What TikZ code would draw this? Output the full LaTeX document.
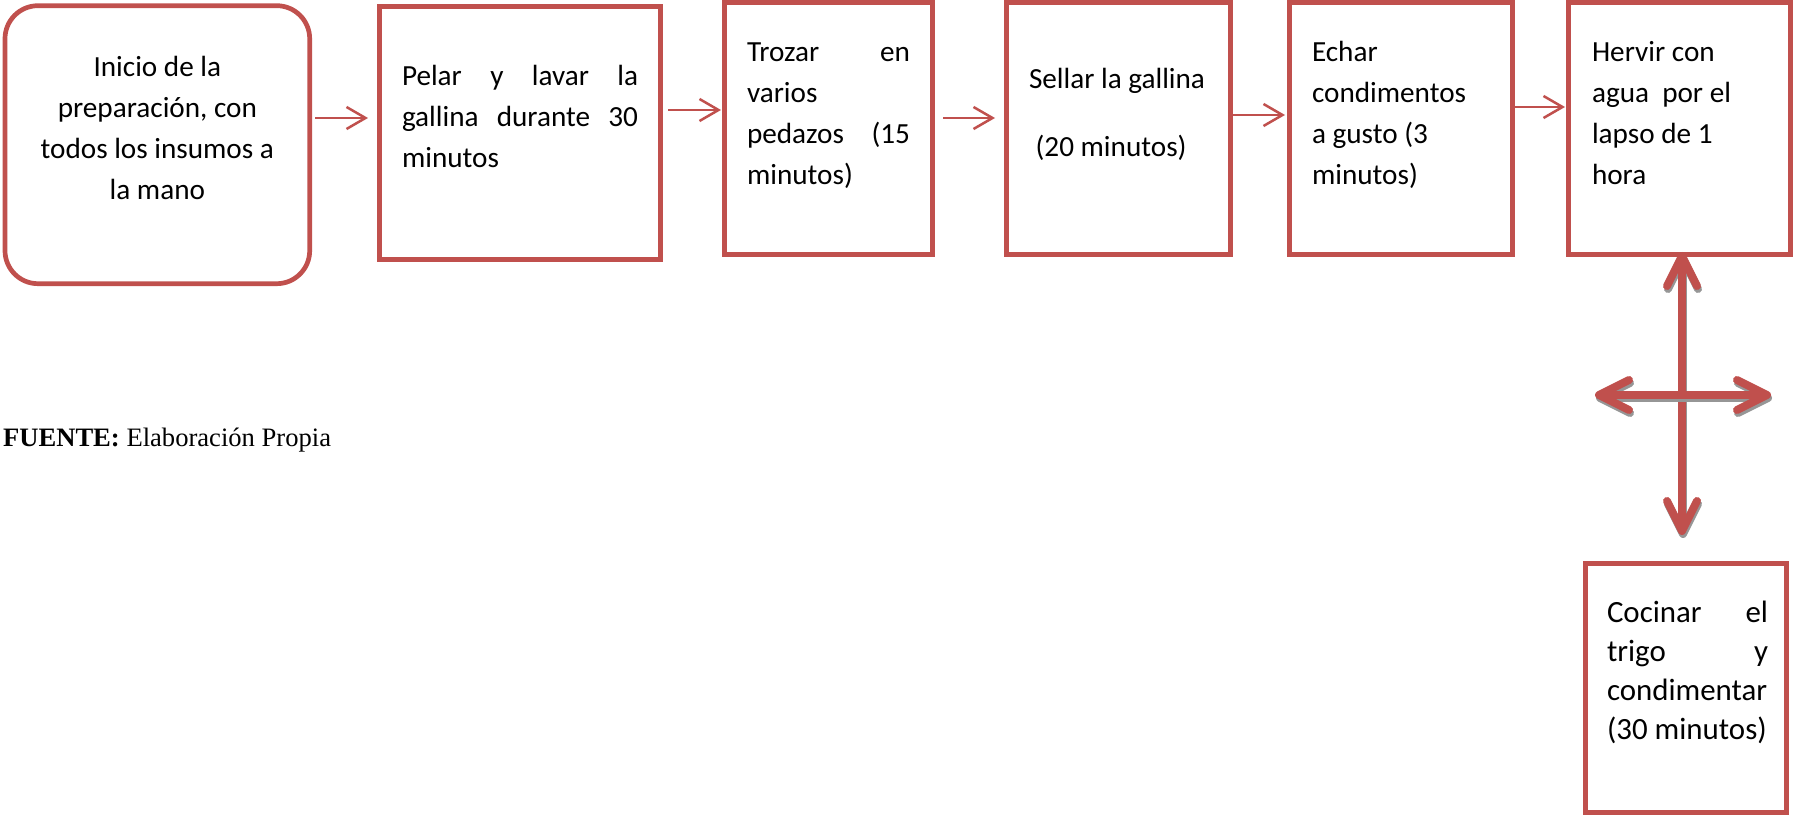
\documentclass[tikz,border=0pt]{standalone}
\usepackage{fontspec}
\setmainfont{Carlito}
\newfontfamily\tnr{Liberation Serif}
\usetikzlibrary{arrows.meta}
\definecolor{accred}{RGB}{192,80,77}
\definecolor{shadowgray}{RGB}{150,150,150}
\newcommand{\bxc}[6]{\parbox[c][#2][t]{#1}{\rule{0pt}{#3}\hspace*{#4}\parbox[t]{#5}{#6}}}
\newcommand{\jl}[1]{\makebox[\linewidth][s]{#1}}
\begin{document}
\begin{tikzpicture}[x=0.5pt,y=-0.5pt,
  stepbox/.style={draw=accred, line width=2.35pt, inner sep=0pt, outer sep=0pt, fill=white},
  txt/.style={font=\fontsize{14.6pt}{20.5pt}\selectfont},
  txtb/.style={font=\fontsize{15.45pt}{19.65pt}\selectfont},
  flow/.style={draw=accred, line width=1.25pt, -{Straight Barb[length=9.5pt,width=11pt]}},
  bigarrow/.style={draw=accred, line width=4pt, line cap=round,
    {Straight Barb[length=15pt,width=15pt,round]}-{Straight Barb[length=15pt,width=15pt,round]}},
  bigshadow/.style={bigarrow, draw=shadowgray, transform canvas={xshift=0.5pt,yshift=-1.5pt}},
]
\useasboundingbox (0,0) rectangle (1794,817);

\node[stepbox, txt, rounded corners=16.5pt] (b1) at (157.35,144.7)
  {\bxc{152.35pt}{139pt}{35.65pt}{0pt}{152.35pt}{\centering Inicio de la\\preparación, con\\todos los insumos a\\la mano}};
\node[stepbox, txt] (b2) at (520,133)
  {\bxc{140.5pt}{126.5pt}{39.75pt}{11.25pt}{118pt}{\jl{Pelar y lavar la}\\\jl{gallina durante 30}\\minutos}};
\node[stepbox, txt] (b3) at (828.5,128.5)
  {\bxc{104pt}{126pt}{29.75pt}{11.25pt}{81.5pt}{\jl{Trozar en}\\varios\\\jl{pedazos (15}\\minutos)}};
\node[stepbox, txt] (b4) at (1118.5,128.5)
  {\bxc{112pt}{126pt}{43.25pt}{11.25pt}{100pt}{Sellar la gallina\\[13.5pt]\hspace*{3.3pt}(20 minutos)}};
\node[stepbox, txt] (b5) at (1401,128.5)
  {\bxc{111.5pt}{126pt}{29.75pt}{11.25pt}{95pt}{Echar\\condimentos\\a gusto (3\\minutos)}};
\node[stepbox, txt] (b6) at (1679.5,128.5)
  {\bxc{111pt}{126pt}{29.75pt}{11.75pt}{95pt}{Hervir con\\agua\ \ por el\\lapso de 1\\hora}};
\node[stepbox, txtb] (b7) at (1686,688)
  {\bxc{100.5pt}{124.5pt}{29.25pt}{10.75pt}{80.5pt}{\jl{Cocinar el}\\\jl{trigo y}\\condimentar\\(30 minutos)}};

\draw[flow, shorten <=2.65pt, shorten >=5.75pt] (b1.east |- 0,118) -- (b2.west |- 0,118);
\draw[flow, shorten <=3.75pt, shorten >=1.75pt] (b2.east |- 0,110) -- (b3.west |- 0,110);
\draw[flow, shorten <=5.25pt, shorten >=5.75pt] (b3.east |- 0,118) -- (b4.west |- 0,118);
\draw[flow, shorten <=1.25pt, shorten >=2.25pt] (b4.east |- 0,115) -- (b5.west |- 0,115);
\draw[flow, shorten <=1.25pt, shorten >=1.75pt] (b5.east |- 0,107) -- (b6.west |- 0,107);

\coordinate (vb) at (1682,535);
\coordinate (hl) at (1595,395);
\coordinate (hr) at (1771,395);
\draw[bigshadow, shorten <=-1.25pt] (b6.south -| vb) -- (vb);
\draw[bigarrow, shorten <=-1.25pt] (b6.south -| vb) -- (vb);
\draw[bigshadow] (hl) -- (hr);
\draw[bigarrow] (hl) -- (hr);

\node[anchor=base west, inner sep=0pt, font=\tnr\fontsize{13.3pt}{15pt}\selectfont] (src) at (2.7,447)
  {\textbf{FUENTE:} Elaboración Propia};
\end{tikzpicture}
\end{document}
